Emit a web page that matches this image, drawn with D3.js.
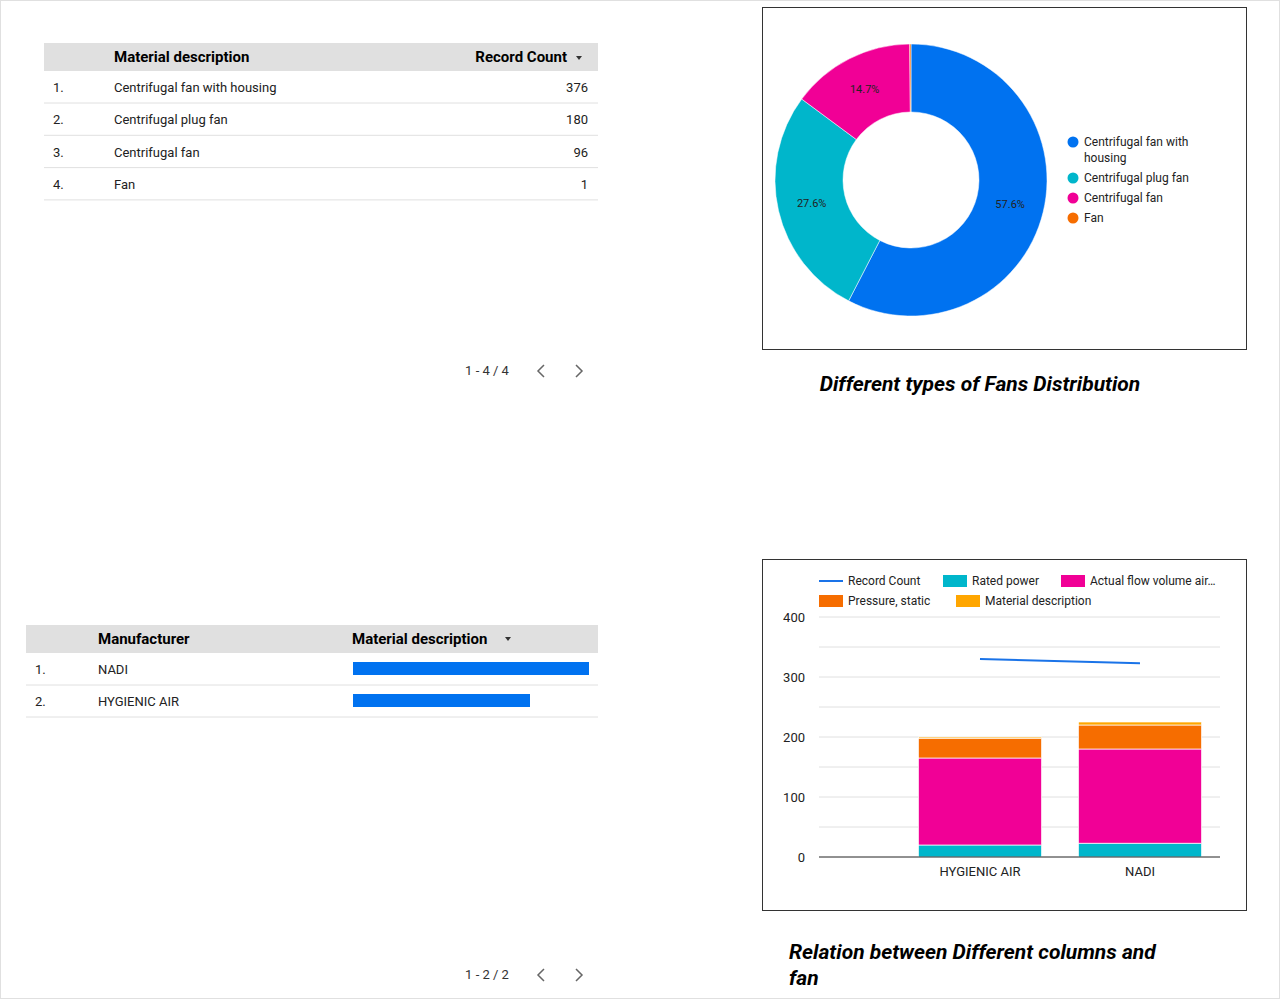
<!DOCTYPE html>
<html><head><meta charset="utf-8">
<script src="https://cdn.jsdelivr.net/npm/d3@7"></script>
<style>
body{margin:0;background:#fff;font-family:Roboto,"Noto Sans",sans-serif;}
svg text{font-family:Roboto,"Noto Sans",sans-serif;}
</style></head><body>
<svg width="1280" height="1000"></svg>
<script>
// table 1 / donut
const fanTypes = ["Centrifugal fan with housing", "Centrifugal plug fan", "Centrifugal fan", "Fan"];
const fanCounts = [376, 180, 96, 1];
const fanColors = ["#0072f0", "#00b6cb", "#f10096", "#f66d00"];
// table 2
const makers = ["NADI", "HYGIENIC AIR"];
const makerValues = [376, 282];
// stacked bar chart
const barCats = ["HYGIENIC AIR", "NADI"];
const seriesNames = ["Rated power", "Actual flow volume air", "Pressure, static", "Material description"];
const seriesColors = ["#00b6cb", "#f10096", "#f66d00", "#ffa600"];
const ratedPower = [20, 23];
const flowVolume = [145, 157];
const pressure = [33, 40];
const materialDesc = [2, 5];
const recordCount = [330, 323];
const yTicks = [0, 100, 200, 300, 400];

const svg = d3.select("svg");
svg.append("rect").attr("x", 0.5).attr("y", 0.5).attr("width", 1279).attr("height", 998)
  .attr("fill", "none").attr("stroke", "#e0e0e0");

// ---- table helper
function table(x0, x1, y0, headers, rows, barMode) {
  const g = svg.append("g");
  g.append("rect").attr("x", x0).attr("y", y0).attr("width", x1 - x0).attr("height", 28).attr("fill", "#e0e0e0");
  headers.forEach(h => g.append("text").attr("x", h.x).attr("y", y0 + 19).attr("font-size", 15)
    .attr("font-weight", "bold").attr("text-anchor", h.anchor || "start").text(h.t));
  return g;
}

// table 1
const t1 = table(44, 598, 43, [{t: "Material description", x: 114}, {t: "Record Count", x: 567, anchor: "end"}]);
t1.append("path").attr("d", "M576,56 l6,0 l-3,4z").attr("fill", "#333");
fanTypes.forEach((d, i) => {
  const y = 71 + i * 32.3;
  t1.append("text").attr("x", 53).attr("y", y + 21).attr("font-size", 13).attr("fill", "#222").text((i + 1) + ".");
  t1.append("text").attr("x", 114).attr("y", y + 21).attr("font-size", 13).attr("fill", "#222").text(d);
  t1.append("text").attr("x", 588).attr("y", y + 21).attr("font-size", 13).attr("fill", "#222").attr("text-anchor", "end").text(fanCounts[i]);
  t1.append("line").attr("x1", 44).attr("x2", 598).attr("y1", y + 32).attr("y2", y + 32).attr("stroke", "#e0e0e0");
});
function pager(y, label) {
  svg.append("text").attr("x", 487).attr("y", y).attr("font-size", 13).attr("text-anchor", "middle").attr("fill", "#333").text(label);
  svg.append("path").attr("d", `M544,${y - 10} l-6,6 l6,6`).attr("fill", "none").attr("stroke", "#666").attr("stroke-width", 1.5);
  svg.append("path").attr("d", `M576,${y - 10} l6,6 l-6,6`).attr("fill", "none").attr("stroke", "#666").attr("stroke-width", 1.5);
}
pager(375, "1 - 4 / 4");

// table 2
const t2 = table(26, 598, 625, [{t: "Manufacturer", x: 98}, {t: "Material description", x: 352}]);
t2.append("path").attr("d", "M505,637 l6,0 l-3,4z").attr("fill", "#333");
const xm = d3.scaleLinear().domain([0, d3.max(makerValues)]).range([353, 589]);
makers.forEach((d, i) => {
  const y = 653 + i * 32;
  t2.append("text").attr("x", 35).attr("y", y + 21).attr("font-size", 13).attr("fill", "#222").text((i + 1) + ".");
  t2.append("text").attr("x", 98).attr("y", y + 21).attr("font-size", 13).attr("fill", "#222").text(d);
  t2.append("rect").attr("x", xm(0)).attr("y", y + 9).attr("width", xm(makerValues[i]) - xm(0)).attr("height", 13).attr("fill", "#0072f0");
  t2.append("line").attr("x1", 26).attr("x2", 598).attr("y1", y + 32).attr("y2", y + 32).attr("stroke", "#e0e0e0");
});
pager(979, "1 - 2 / 2");

// ---- donut
svg.append("rect").attr("x", 762.5).attr("y", 7.5).attr("width", 484).attr("height", 342).attr("fill", "none").attr("stroke", "#333");
const pie = d3.pie().sort(null).value(d => d)(fanCounts);
const arc = d3.arc().innerRadius(68).outerRadius(136);
const lab = d3.arc().innerRadius(102).outerRadius(102);
const dg = svg.append("g").attr("transform", "translate(911,180)");
dg.selectAll("path").data(pie).join("path").attr("d", arc).attr("fill", (d, i) => fanColors[i]).attr("stroke", "#fff").attr("stroke-width", 0.5);
const total = d3.sum(fanCounts);
dg.selectAll("text").data(pie.filter(d => d.value / total > 0.05)).join("text")
  .attr("transform", d => `translate(${lab.centroid(d)})`).attr("dy", "0.35em").attr("text-anchor", "middle")
  .attr("font-size", 11).attr("fill", "#222").text(d => (d.value / total * 100).toFixed(1) + "%");
const legY = [142, 178, 198, 218];
fanTypes.forEach((d, i) => {
  svg.append("circle").attr("cx", 1073).attr("cy", legY[i]).attr("r", 5.5).attr("fill", fanColors[i]);
  const t = svg.append("text").attr("x", 1084).attr("y", legY[i] + 4).attr("font-size", 12).attr("fill", "#222");
  if (i === 0) {
    t.append("tspan").text("Centrifugal fan with");
    t.append("tspan").attr("x", 1084).attr("dy", 16).text("housing");
  } else t.text(d);
});
svg.append("text").attr("x", 980).attr("y", 391).attr("text-anchor", "middle").attr("font-size", 21)
  .attr("font-weight", "bold").attr("font-style", "italic").text("Different types of Fans Distribution");

// ---- stacked bars
svg.append("rect").attr("x", 762.5).attr("y", 559.5).attr("width", 484).attr("height", 351).attr("fill", "none").attr("stroke", "#333");
const y = d3.scaleLinear().domain([0, 400]).range([857, 617]);
const x = d3.scaleBand().domain(barCats).range([900, 1220]).paddingInner(0.23).paddingOuter(0.115);
const grid = svg.append("g");
d3.range(0, 401, 50).forEach(v => grid.append("line").attr("x1", 819).attr("x2", 1220).attr("y1", y(v)).attr("y2", y(v)).attr("stroke", "#e0e0e0"));
svg.append("g").attr("transform", "translate(819,0)")
  .call(d3.axisLeft(y).tickValues(yTicks).tickSize(0).tickPadding(14))
  .call(g => g.select(".domain").remove())
  .selectAll("text").attr("font-size", 13).attr("fill", "#222");
const rows = barCats.map((c, i) => ({cat: c, s0: ratedPower[i], s1: flowVolume[i], s2: pressure[i], s3: materialDesc[i]}));
const stack = d3.stack().keys(["s0", "s1", "s2", "s3"])(rows);
svg.append("g").selectAll("g").data(stack).join("g").attr("fill", (d, i) => seriesColors[i])
  .selectAll("rect").data(d => d).join("rect")
  .attr("x", d => x(d.data.cat)).attr("width", x.bandwidth())
  .attr("y", d => y(d[1])).attr("height", d => y(d[0]) - y(d[1]))
  .attr("stroke", "#fff").attr("stroke-width", 0.7);
svg.append("line").attr("x1", 819).attr("x2", 1220).attr("y1", y(0)).attr("y2", y(0)).attr("stroke", "#333");
svg.append("path").attr("fill", "none").attr("stroke", "#1a73e8").attr("stroke-width", 2)
  .attr("d", d3.line().x((d, i) => x(barCats[i]) + x.bandwidth() / 2).y(d => y(d))(recordCount));
barCats.forEach(c => svg.append("text").attr("x", x(c) + x.bandwidth() / 2).attr("y", 876).attr("text-anchor", "middle")
  .attr("font-size", 13).attr("fill", "#222").text(c));
// legend
const leg = [
  {t: "Record Count", x: 819, y: 581, line: true},
  {t: "Rated power", x: 943, y: 581, c: 0},
  {t: "Actual flow volume air…", x: 1061, y: 581, c: 1},
  {t: "Pressure, static", x: 819, y: 601, c: 2},
  {t: "Material description", x: 956, y: 601, c: 3}
];
leg.forEach(l => {
  if (l.line) svg.append("line").attr("x1", l.x).attr("x2", l.x + 24).attr("y1", l.y).attr("y2", l.y).attr("stroke", "#1a73e8").attr("stroke-width", 2);
  else svg.append("rect").attr("x", l.x).attr("y", l.y - 6).attr("width", 24).attr("height", 12).attr("fill", seriesColors[l.c]);
  svg.append("text").attr("x", l.x + 29).attr("y", l.y + 4).attr("font-size", 12).attr("fill", "#222").text(l.t);
});
svg.append("text").attr("x", 789).attr("y", 959).attr("font-size", 21).attr("font-weight", "bold").attr("font-style", "italic")
  .text("Relation between Different columns and");
svg.append("text").attr("x", 789).attr("y", 985).attr("font-size", 21).attr("font-weight", "bold").attr("font-style", "italic").text("fan");
</script></body></html>
